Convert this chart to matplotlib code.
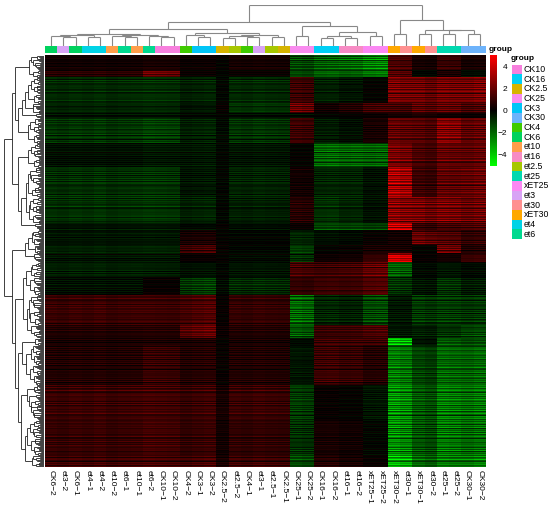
import numpy as np
import matplotlib
matplotlib.use('Agg')
import matplotlib.pyplot as plt
from matplotlib.collections import LineCollection
from matplotlib.colors import LinearSegmentedColormap, to_rgb
from matplotlib.patches import Rectangle

plt.rcParams['font.family'] = ['Liberation Sans', 'DejaVu Sans']

# ---- data ----
samples = ['CK6-2', 'et3-2', 'CK6-1', 'et4-1', 'et4-2', 'et10-2', 'et6-1', 'et10-1',
           'et6-2', 'CK10-1', 'CK10-2', 'CK4-2', 'CK3-1', 'CK3-2', 'CK2.5-2', 'et2.5-2',
           'CK4-1', 'et3-1', 'et2.5-1', 'CK2.5-1', 'CK25-1', 'CK25-2', 'CK16-1', 'CK16-2',
           'et16-1', 'et16-2', 'xET25-1', 'xET25-2', 'xET30-2', 'et30-1', 'xET30-1', 'et30-2',
           'et25-1', 'et25-2', 'CK30-1', 'CK30-2']

group_names = ['CK10', 'CK16', 'CK2.5', 'CK25', 'CK3', 'CK30', 'CK4', 'CK6', 'et10',
               'et16', 'et2.5', 'et25', 'xET25', 'et3', 'et30', 'xET30', 'et4', 'et6']
group_colors = ['#F77FDD', '#00CFF5', '#D6B400', '#F98BEF', '#00C5F7', '#6DB3FB',
                '#3FCB00', '#00D25E', '#FF9E4A', '#F78BC4', '#A7C700', '#00D9B0',
                '#FB88F3', '#D8A3F5', '#FF9090', '#FFA800', '#00D3E6', '#00D98F']

# column blocks: A1 A2 B1 B2 B3 C D1 D2 D3 E F G H
block_sizes = [8, 3, 3, 1, 5, 2, 2, 2, 2, 2, 2, 2, 2]

# row bands: number of rows and level per column block (approx.)
band_rows = [15, 7, 26, 10, 5, 25, 24, 30, 26, 7, 15,
             8, 9, 15, 18, 30, 13, 7, 40, 35, 35, 12]
band_values = [
    [0.3, 0.4, 0.2, 0.0, 0.4, -1.3, -1.7, -2.0, -2.3, 1.3, 0.4, 1.0, 0.4],
    [0.7, 1.7, 0.1, -0.1, 0.1, -1.4, -1.9, -1.9, -2.2, 1.4, -0.2, 0.4, -0.3],
    [-0.8, -0.8, -0.6, -0.1, -0.8, 1.1, -0.6, -0.4, 0.0, 2.1, 2.1, 2.1, 2.2],
    [-0.7, -0.7, -0.4, 0.1, -1.0, 1.9, 0.3, 0.6, 1.1, 1.1, 1.7, 1.7, 1.3],
    [-0.3, -0.3, -0.1, 0.0, -0.2, -0.2, 0.0, 0.1, 0.2, 0.4, 0.6, 0.3, 0.2],
    [-1.0, -1.1, -0.6, -0.2, -1.0, 1.1, -0.5, -0.3, 0.4, 1.7, 1.6, 2.4, 1.8],
    [-0.3, -0.4, -0.4, -0.1, -0.4, 0.0, -1.9, -1.9, -1.7, 2.1, 1.4, 1.8, 1.8],
    [-0.9, -0.9, -0.4, -0.1, -0.7, 0.3, -0.7, -0.7, -0.3, 3.0, 1.1, 1.7, 1.9],
    [-0.9, -0.9, -0.6, -0.1, -0.6, 0.7, -0.9, -0.7, -0.3, 2.4, 2.3, 2.2, 2.0],
    [-0.4, -0.4, -0.2, 0.0, -0.3, 0.1, -1.3, -1.3, -1.1, 3.6, 0.9, 1.1, 1.3],
    [-0.4, -0.4, 0.4, 0.0, -0.1, -0.7, -0.3, -0.2, 0.1, 0.3, 1.9, 1.4, 0.9],
    [-0.6, -0.6, 1.1, 0.1, -0.1, -1.1, 0.0, 0.1, 0.4, 0.4, 0.0, 1.9, 0.6],
    [-0.4, -0.4, 0.1, 0.0, -0.2, -0.9, 0.2, 0.3, 0.9, 3.8, 0.1, 0.3, 1.1],
    [-0.6, -0.5, -0.3, -0.1, -0.4, 1.3, 1.1, 1.3, 1.7, -1.7, -0.2, -0.4, -0.2],
    [-0.3, 0.1, -1.0, -0.2, -0.8, 0.9, 1.1, 1.1, 1.4, -0.9, -0.4, -0.9, -0.5],
    [1.1, 1.0, 1.3, 0.1, 1.0, -1.9, -0.7, -0.6, -1.3, -0.4, -1.1, -1.1, -1.0],
    [0.6, 0.6, 1.6, 0.2, 0.6, -1.6, 1.0, 1.1, 1.3, -0.4, -0.6, -0.9, -1.3],
    [0.4, 0.4, 0.4, 0.0, 0.4, -0.2, 1.1, 1.1, 1.0, -3.6, -0.4, -1.6, -1.4],
    [0.6, 0.9, 0.6, 0.1, 0.6, -0.4, 1.1, 1.0, 0.6, -2.2, -1.3, -1.9, -1.9],
    [1.1, 1.1, 1.0, 0.4, 1.1, -1.1, 0.1, 0.0, -0.4, -2.6, -1.7, -2.3, -2.2],
    [1.0, 1.1, 0.9, 0.3, 0.9, -0.9, 0.4, 0.3, -0.1, -2.5, -1.6, -2.2, -2.0],
    [1.1, 1.1, 1.1, 0.4, 1.1, -1.4, 0.6, 0.4, 0.1, -3.3, -2.0, -2.3, -2.4],
]

# streak texture inside bands and per-sample strength
row_gain = [1.0, 0.6, 1.3, 0.8, 1.45, 0.45, 1.1, 0.9, 1.25, 0.7, 1.4, 0.55,
            1.0, 1.5, 0.75, 0.4, 1.2, 0.95, 1.3, 0.65, 1.1, 0.85, 1.35]
row_shift = [0.0, 0.2, -0.15, 0.3, -0.25, 0.1, -0.1, 0.2, -0.3, 0.15, 0.0,
             -0.2, 0.35, -0.1, 0.1, -0.2, 0.25]
col_gain = [1.0, 0.9, 1.05, 0.95, 1.1, 0.9, 1.0, 1.05, 1.15, 1.1, 1.05, 0.95,
            1.1, 1.2, 1.0, 1.0, 0.9, 1.05, 0.95, 0.9, 1.05, 0.95, 1.0, 1.05,
            0.95, 1.0, 1.05, 1.1, 1.1, 1.0, 1.0, 0.85, 1.05, 1.0, 0.95, 1.05]

# column dendrogram nodes: (left, right, height)
left_a = ((0, (1, 2, 9.0), 10.0), (3, 4, 8.5), 10.5)
left_b = ((5, (6, 7, 8.5), 10.0), (8, (9, 10, 8.5), 9.5), 11.0)
left_c = (11, (12, 13, 8.5), 10.5)
left_d = (((14, 15, 8.0), (16, 17, 9.0), 10.0), (18, 19, 8.5), 11.0)
left = ((left_a, left_b, 12.0), (left_c, left_d, 12.5), 17.0)
mid = ((20, 21, 10.0), (((22, 23, 8.0), (24, 25, 8.0), 9.3), (26, 27, 10.0), 13.7), 19.3)
right = ((28, 29, 11.7), ((30, 31, 11.7), ((32, 33, 11.7), (34, 35, 11.7), 15.3), 16.0), 25.3)
col_tree = ((left, mid, 23.3), right, 40.3)

# row dendrogram: grouping of the bands
band_tree = [[[[0, 1], [[[2, 3], 4], 5]], [6, [[7, 8], 9]]],
             [[[10, 11], 12], [[[13, 14], [15, 16]], [[17, 18], [19, [20, 21]]]]]]
band_steps = [2.0, 3.5, 2.5, 4.0, 3.0, 2.2, 5.0, 2.8, 3.2, 4.5, 2.4,
              3.8, 2.6, 3.0, 4.2, 2.1, 3.4, 2.9, 3.6, 2.3, 4.8]
wobble = [0.0, 1.4, 0.6, 2.0, 1.0, 0.4, 1.8, 0.8, 1.6, 0.2, 1.2]
split_frac = [0.5, 0.3, 0.62, 0.4, 0.7, 0.25, 0.55, 0.35, 0.66, 0.45]

# ---- build matrix ----
col_block = np.repeat(np.arange(len(block_sizes)), block_sizes)
band_of_row = np.repeat(np.arange(len(band_rows)), band_rows)
n_rows = band_of_row.size
n_cols = len(samples)
rg = np.array([row_gain[r % len(row_gain)] for r in range(n_rows)])
rs = np.array([row_shift[r % len(row_shift)] for r in range(n_rows)])
base = np.array(band_values)[band_of_row][:, col_block]
mat = base * rg[:, None] * np.array(col_gain)[None, :] + rs[:, None]
mat = np.clip(mat, -5, 5)


def tree_segments(node, segs):
    if not isinstance(node, tuple):
        return node + 0.5, 0.0
    a, b, h = node
    pa, ha = tree_segments(a, segs)
    pb, hb = tree_segments(b, segs)
    segs.append([(pa, ha), (pa, h)])
    segs.append([(pa, h), (pb, h)])
    segs.append([(pb, h), (pb, hb)])
    return (pa + pb) / 2.0, h


def split_rows(start, n):
    if n == 1:
        return start, 0.0
    k = (start + n) % len(split_frac)
    m = min(n - 1, max(1, int(round(n * split_frac[k]))))
    a, ha = split_rows(start, m)
    b, hb = split_rows(start + m, n - m)
    h = 3.0 * np.log2(n) + wobble[(start + 3 * n) % len(wobble)]
    h = max(h, ha + 0.4, hb + 0.4)
    return (a, b, h), h


starts = np.concatenate([[0], np.cumsum(band_rows)[:-1]])
band_nodes = [split_rows(int(s), n) for s, n in zip(starts, band_rows)]
counter = [0]


def build_band(node):
    if isinstance(node, int):
        return band_nodes[node]
    a, ha = build_band(node[0])
    b, hb = build_band(node[1])
    h = max(ha, hb) + band_steps[counter[0] % len(band_steps)]
    counter[0] += 1
    return (a, b, h), h


row_root, _ = build_band(band_tree)
row_root = (row_root[0], row_root[1], max(row_root[2] + 3.0, 40.0))

# ---- figure ----
W, H = 550, 508
fig = plt.figure(figsize=(5.5, 5.08), dpi=100)


def box(x0, y0, x1, y1):
    return [x0 / W, 1 - y1 / H, (x1 - x0) / W, (y1 - y0) / H]


cmap = LinearSegmentedColormap.from_list('gbr', ['#00FF00', '#000000', '#FF0000'])

ax = fig.add_axes(box(45, 55, 486, 467))
im = ax.imshow(mat, cmap=cmap, vmin=-5, vmax=5, aspect='auto',
               interpolation='nearest', extent=(0, n_cols, n_rows, 0))
ax.set_xticks(np.arange(n_cols) + 0.5)
ax.set_xticklabels([s.replace('-', '\u2212') for s in samples], rotation=270,
                   fontsize=6, va='top', ha='center')
ax.tick_params(axis='x', length=0, pad=2)
ax.set_yticks([])
for sp in ax.spines.values():
    sp.set_visible(False)

# annotation bar
color_of = dict(zip(group_names, group_colors))
sample_groups = [s.rsplit('-', 1)[0] for s in samples]
rgb = np.array([[to_rgb(color_of[g]) for g in sample_groups]])
axb = fig.add_axes(box(45, 46, 486, 53))
axb.imshow(rgb, aspect='auto', interpolation='nearest', extent=(0, n_cols, 1, 0))
axb.axis('off')

# column dendrogram
segs = []
tree_segments(col_tree, segs)
axc = fig.add_axes(box(45, 5, 486, 45.7))
axc.add_collection(LineCollection(segs, colors='#888888', linewidths=0.8))
axc.set_xlim(0, n_cols)
axc.set_ylim(0, 40.7)
axc.axis('off')

# row dendrogram
rsegs = []
tree_segments(row_root, rsegs)
rsegs = [[(p[1], p[0]) for p in s] for s in rsegs]
axr = fig.add_axes(box(3, 55, 44, 467))
axr.add_collection(LineCollection(rsegs, colors='#202020', linewidths=0.6))
axr.set_xlim(row_root[2] + 0.6, 0)
axr.set_ylim(n_rows, 0)
axr.axis('off')

# colour scale
cax = fig.add_axes(box(490, 55, 497, 166))
cb = fig.colorbar(im, cax=cax)
cb.outline.set_visible(False)
cax.set_yticks([-4, -2, 0, 2, 4])
cax.set_yticklabels(['\u22124', '\u22122', '0', '2', '4'], fontsize=6, ha='right')
cax.tick_params(axis='y', length=0, pad=7.5)

# labels and group legend
ov = fig.add_axes([0, 0, 1, 1])
ov.set_xlim(0, W)
ov.set_ylim(H, 0)
ov.axis('off')
ov.text(489, 49.5, 'group', fontsize=6, fontweight='bold', va='center', ha='left')
ov.text(511, 58.5, 'group', fontsize=6, fontweight='bold', va='center', ha='left')
for i, (g, c) in enumerate(zip(group_names, group_colors)):
    y0 = 64.5 + i * 9.7
    ov.add_patch(Rectangle((512, y0), 10, 9.7, facecolor=c, edgecolor='none'))
    ov.text(524, y0 + 4.85, g, fontsize=6.3, va='center', ha='left')

fig.savefig('out.png', dpi=100, facecolor='white')
